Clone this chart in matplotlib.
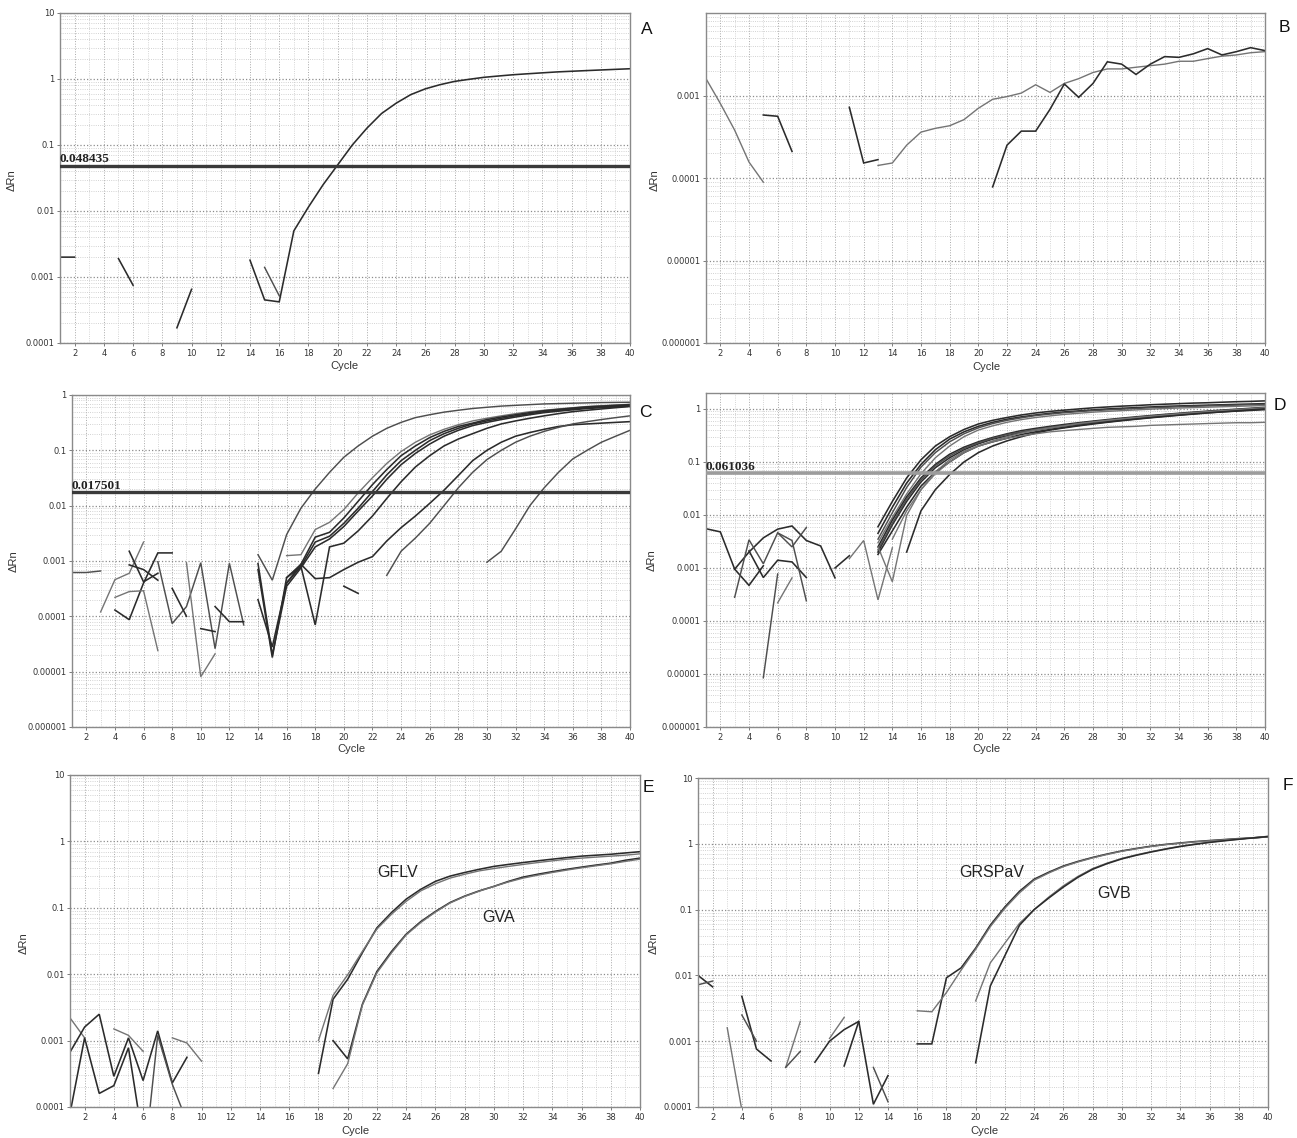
import numpy as np
import matplotlib
matplotlib.use('Agg')
import matplotlib.pyplot as plt
from matplotlib.ticker import LogLocator, NullFormatter, FixedLocator

nan = np.nan
W, H = 1297, 1138

# ---------------- data (start cycle, values) ----------------
# Panel A
A_main = (14, [0.0018, 0.00045, 0.00042, 0.005, 0.0115, 0.025, 0.05, 0.1, 0.18, 0.3, 0.43, 0.58, 0.71,
               0.82, 0.92, 0.99, 1.06, 1.11, 1.16, 1.2, 1.24, 1.28, 1.31, 1.34, 1.37, 1.40, 1.43])
A_side = (15, [0.0014, 0.00052])
A_noise = (1, [0.002, 0.002, nan, nan, 0.0019, 0.00075, nan, nan, 0.00017, 0.00065])
A_threshold = 0.048435

# Panel B
B_light = (1, [0.0016, 0.0008, 0.00038, 0.000156, 0.000089, nan, nan, nan, nan, nan, nan, nan,
               0.000142, 0.000152, 0.00025, 0.00036, 0.0004, 0.00043, 0.00051, 0.0007, 0.0009, 0.00097,
               0.00107, 0.00135, 0.00109, 0.0014, 0.0016, 0.0019, 0.0021, 0.0021, 0.0022, 0.0023, 0.0024,
               0.0026, 0.0026, 0.0028, 0.003, 0.0031, 0.0033, 0.0034])
B_dark = (5, [0.00058, 0.00056, 0.00021, nan, nan, nan, 0.00072, 0.000152, 0.000167,
              nan, nan, nan, nan, nan, nan, nan,
              0.000078, 0.00025, 0.00037, 0.00037, 0.00068, 0.00138, 0.00095, 0.0014, 0.00256, 0.0024,
              0.0018, 0.0024, 0.00296, 0.0029, 0.0032, 0.0037, 0.0031, 0.0034, 0.0038, 0.0035])

# Panel C
C_noise = [
    (1, [0.00062, 0.00062, 0.00066], 'm'),
    (3, [0.00012, 0.00046, 0.0006, 0.0022], 'l'),
    (4, [0.00013, 0.000087, 0.0004, 0.0014, 0.0014], 'd'),
    (5, [0.0015, 0.00042, 0.0006], 'd'),
    (5, [0.00085, 0.0007, 0.00045], 'd'),
    (4, [0.00022, 0.00028, 0.00029, 0.000024], 'l'),
    (7, [0.00097, 0.000074, 0.00015, 0.00093, 0.000026, 0.00091, 0.00007], 'm'),
    (9, [0.00093, 0.0000081, 0.000021], 'l'),
    (8, [0.00032, 0.0001], 'd'),
    (10, [0.00006, 0.000053], 'd'),
    (11, [0.00015, 0.00008, 0.00008], 'd'),
    (20, [0.00035, 0.00026], 'd'),
]
C_curves = [
    (14, [0.0013, 0.00045, 0.003, 0.009, 0.02, 0.04, 0.075, 0.12, 0.18, 0.25, 0.32, 0.39, 0.44, 0.49,
          0.53, 0.57, 0.6, 0.63, 0.65, 0.67, 0.69, 0.7, 0.71, 0.72, 0.73, 0.735, 0.74], 'm'),
    (16, [0.00125, 0.0013, 0.0037, 0.005, 0.0085, 0.017, 0.032, 0.058, 0.095, 0.14, 0.19, 0.24, 0.29,
          0.34, 0.38, 0.42, 0.46, 0.5, 0.53, 0.56, 0.59, 0.62, 0.64, 0.66, 0.68], 'l'),
    (14, [0.0007, 0.000018, 0.0005, 0.00087, 0.0027, 0.0033, 0.006, 0.012, 0.024, 0.045, 0.08, 0.12,
          0.17, 0.22, 0.27, 0.31, 0.36, 0.4, 0.44, 0.48, 0.52, 0.55, 0.58, 0.61, 0.63, 0.65, 0.67], 'd'),
    (14, [0.0002, 0.000028, 0.0004, 0.0008, 0.0022, 0.0028, 0.0048, 0.009, 0.018, 0.036, 0.065, 0.1,
          0.15, 0.2, 0.25, 0.3, 0.34, 0.38, 0.42, 0.46, 0.5, 0.53, 0.56, 0.59, 0.61, 0.63, 0.65], 'd'),
    (14, [0.0009, 0.00002, 0.00035, 0.00075, 0.0018, 0.0025, 0.0042, 0.008, 0.015, 0.03, 0.055, 0.088,
          0.13, 0.18, 0.23, 0.28, 0.32, 0.36, 0.4, 0.44, 0.48, 0.51, 0.54, 0.57, 0.59, 0.61, 0.63], 'd'),
    (16, [0.0005, 0.0008, 0.00007, 0.0018, 0.0021, 0.0035, 0.0065, 0.0135, 0.027, 0.05, 0.08, 0.12,
          0.16, 0.2, 0.25, 0.3, 0.34, 0.38, 0.42, 0.46, 0.5, 0.53, 0.56, 0.59, 0.62], 'd'),
    (16, [0.0004, 0.00087, 0.00048, 0.0005, 0.0007, 0.00095, 0.0012, 0.0023, 0.004, 0.0065, 0.011,
          0.019, 0.035, 0.065, 0.1, 0.14, 0.18, 0.21, 0.24, 0.27, 0.29, 0.3, 0.31, 0.32, 0.33], 'd'),
    (23, [0.00055, 0.0015, 0.0026, 0.0048, 0.01, 0.021, 0.04, 0.068, 0.1, 0.14, 0.18, 0.22, 0.26, 0.3,
          0.33, 0.36, 0.39, 0.42], 'm'),
    (30, [0.00095, 0.0015, 0.0038, 0.01, 0.021, 0.04, 0.07, 0.1, 0.14, 0.18, 0.23], 'm'),
]
C_threshold = 0.017501

# Panel D
D_noise = [
    (1, [0.0055, 0.0048, 0.00095, 0.00047, 0.0011], 'd'),
    (3, [0.00095, 0.002, 0.0037, 0.0054, 0.0062, 0.0033, 0.0026, 0.00065], 'd'),
    (3, [0.00028, 0.0034, 0.0012, 0.0046, 0.0025, 0.0058], 'm'),
    (4, [0.0021, 0.00066, 0.0014, 0.0013, 0.00066], 'd'),
    (5, [0.0000085, 0.00077], 'm'),
    (6, [0.00022, 0.00065], 'l'),
    (6, [0.0046, 0.0033, 0.00024], 'm'),
    (10, [0.001, 0.0017], 'd'),
    (11, [0.0015, 0.0033, 0.00025, 0.0024], 'l'),
]
D_curves = [
    (13, [0.006, 0.018, 0.05, 0.11, 0.2, 0.3, 0.41, 0.52, 0.61, 0.69, 0.77, 0.84, 0.9, 0.95, 1.0, 1.05,
          1.09, 1.13, 1.16, 1.2, 1.23, 1.26, 1.29, 1.31, 1.34, 1.37, 1.39, 1.42], 'd'),
    (13, [0.0045, 0.014, 0.04, 0.09, 0.17, 0.27, 0.37, 0.47, 0.56, 0.64, 0.71, 0.77, 0.83, 0.88, 0.92,
          0.96, 1.0, 1.03, 1.06, 1.09, 1.12, 1.14, 1.16, 1.18, 1.2, 1.22, 1.24, 1.26], 'd'),
    (13, [0.0035, 0.011, 0.033, 0.08, 0.15, 0.24, 0.34, 0.44, 0.53, 0.61, 0.68, 0.75, 0.8, 0.85, 0.89,
          0.93, 0.96, 0.99, 1.02, 1.05, 1.07, 1.1, 1.12, 1.14, 1.16, 1.18, 1.2, 1.22], 'm'),
    (13, [0.003, 0.009, 0.025, 0.06, 0.12, 0.2, 0.3, 0.4, 0.48, 0.56, 0.63, 0.69, 0.74, 0.79, 0.83,
          0.87, 0.9, 0.93, 0.96, 0.99, 1.02, 1.04, 1.06, 1.08, 1.1, 1.12, 1.14, 1.16], 'l'),
    (13, [0.0025, 0.008, 0.022, 0.05, 0.09, 0.14, 0.19, 0.24, 0.29, 0.34, 0.39, 0.43, 0.47, 0.51, 0.55,
          0.59, 0.63, 0.67, 0.71, 0.75, 0.79, 0.83, 0.87, 0.91, 0.95, 0.99, 1.03, 1.07], 'd'),
    (13, [0.002, 0.0065, 0.018, 0.042, 0.078, 0.12, 0.17, 0.22, 0.27, 0.31, 0.36, 0.4, 0.44, 0.48, 0.52,
          0.56, 0.6, 0.64, 0.68, 0.72, 0.76, 0.8, 0.84, 0.88, 0.92, 0.96, 0.99, 1.02], 'd'),
    (13, [0.0018, 0.005, 0.014, 0.035, 0.065, 0.1, 0.15, 0.2, 0.24, 0.28, 0.33, 0.37, 0.41, 0.45, 0.49,
          0.53, 0.57, 0.61, 0.65, 0.69, 0.73, 0.77, 0.81, 0.85, 0.88, 0.91, 0.94, 0.97], 'd'),
    (13, [0.0022, 0.007, 0.02, 0.046, 0.085, 0.13, 0.18, 0.23, 0.28, 0.33, 0.37, 0.41, 0.45, 0.49, 0.53,
          0.57, 0.61, 0.65, 0.69, 0.73, 0.77, 0.81, 0.85, 0.89, 0.93, 0.97, 1.01, 1.05], 'm'),
    (14, [0.0035, 0.012, 0.03, 0.06, 0.1, 0.15, 0.2, 0.25, 0.3, 0.35, 0.4, 0.44, 0.48, 0.53, 0.57, 0.61,
          0.65, 0.69, 0.73, 0.77, 0.81, 0.85, 0.89, 0.93, 0.97, 1.01, 1.05], 'l'),
    (15, [0.002, 0.012, 0.03, 0.058, 0.1, 0.15, 0.2, 0.25, 0.3, 0.35, 0.4, 0.44, 0.48, 0.52, 0.56, 0.6,
          0.64, 0.68, 0.72, 0.76, 0.8, 0.84, 0.88, 0.92, 0.96, 1.0], 'd'),
    (13, [0.0025, 0.00055, 0.0098, 0.03, 0.065, 0.11, 0.16, 0.2, 0.24, 0.28, 0.31, 0.34, 0.37, 0.39,
          0.41, 0.43, 0.45, 0.46, 0.47, 0.49, 0.5, 0.51, 0.52, 0.53, 0.54, 0.55, 0.55, 0.56], 'l'),
]
D_threshold = 0.061036

# Panel E
E_noise = [
    (1, [0.0022, 0.0011], 'l'),
    (1, [0.00067, 0.0016, 0.0025, 0.00029, 0.0011, 0.00025, 0.0014, 0.00023, 0.00056], 'd'),
    (1, [0.00008, 0.0011, 0.00016, 0.00021, 0.00078, 0.00003], 'd'),
    (6, [0.00001, 0.0012, 0.00022, 0.00006], 'm'),
    (4, [0.0015, 0.0012, 0.00069], 'l'),
    (8, [0.0011, 0.00092, 0.00049], 'l'),
]
E_curves = [
    (18, [0.00032, 0.0042, 0.0084, 0.021, 0.05, 0.085, 0.135, 0.19, 0.25, 0.3, 0.34, 0.38, 0.42, 0.45,
          0.48, 0.51, 0.54, 0.57, 0.6, 0.62, 0.64, 0.67, 0.7], 'd'),
    (18, [0.001, 0.0048, 0.0098, 0.022, 0.048, 0.08, 0.125, 0.18, 0.23, 0.28, 0.32, 0.36, 0.39, 0.42,
          0.45, 0.48, 0.51, 0.54, 0.56, 0.58, 0.6, 0.62, 0.65], 'l'),
    (19, [0.001, 0.00053, 0.0035, 0.011, 0.022, 0.04, 0.062, 0.088, 0.12, 0.15, 0.18, 0.21, 0.25, 0.29,
          0.32, 0.35, 0.38, 0.41, 0.44, 0.47, 0.52, 0.56], 'd'),
    (19, [0.00019, 0.00045, 0.0034, 0.0105, 0.021, 0.039, 0.06, 0.086, 0.118, 0.148, 0.178, 0.21, 0.245,
          0.28, 0.31, 0.34, 0.37, 0.4, 0.43, 0.46, 0.5, 0.54], 'l'),
]
E_labels = ['GFLV', 'GVA']

# Panel F
F_noise = [
    (1, [0.01, 0.0067], 'd'),
    (1, [0.0072, 0.0082], 'm'),
    (3, [0.0016, 0.00009], 'l'),
    (4, [0.0048, 0.00076, 0.0005], 'd'),
    (4, [0.0025, 0.001], 'm'),
    (7, [0.0004, 0.002], 'l'),
    (7, [0.0004, 0.0007], 'm'),
    (9, [0.00048, 0.001, 0.0015, 0.002, 0.00011, 0.0003], 'd'),
    (10, [0.0011, 0.0023], 'l'),
    (11, [0.00042, 0.002], 'd'),
    (13, [0.0004, 0.00012], 'm'),
]
F_curves = [
    (16, [0.00091, 0.00091, 0.0092, 0.013, 0.026, 0.058, 0.11, 0.19, 0.29, 0.37, 0.46, 0.54, 0.62, 0.7,
          0.78, 0.85, 0.92, 0.98, 1.03, 1.08, 1.12, 1.16, 1.2, 1.23, 1.28], 'd'),
    (16, [0.0029, 0.0028, 0.0055, 0.012, 0.025, 0.055, 0.105, 0.18, 0.28, 0.36, 0.45, 0.53, 0.61, 0.69,
          0.77, 0.84, 0.91, 0.97, 1.02, 1.07, 1.11, 1.15, 1.19, 1.23, 1.27], 'l'),
    (20, [0.0041, 0.0155, 0.031, 0.062, 0.1, 0.155, 0.23, 0.32, 0.42, 0.51, 0.6, 0.68, 0.76, 0.84, 0.92,
          0.99, 1.06, 1.12, 1.18, 1.24, 1.3], 'l'),
    (20, [0.00047, 0.0069, 0.02, 0.058, 0.1, 0.15, 0.22, 0.31, 0.41, 0.5, 0.59, 0.67, 0.75, 0.83, 0.91,
          0.98, 1.05, 1.11, 1.17, 1.23, 1.29], 'd'),
]
F_labels = ['GRSPaV', 'GVB']

x_ticks = list(range(2, 41, 2))
y_ticks_A = [1e-4, 1e-3, 1e-2, 1e-1, 1, 10]
y_labels_A = ['0.0001', '0.001', '0.01', '0.1', '1', '10']
y_ticks_B = [1e-6, 1e-5, 1e-4, 1e-3]
y_labels_B = ['0.000001', '0.00001', '0.0001', '0.001']
y_ticks_C = [1e-6, 1e-5, 1e-4, 1e-3, 1e-2, 1e-1, 1]
y_labels_C = ['0.000001', '0.00001', '0.0001', '0.001', '0.01', '0.1', '1']

# ---------------- drawing ----------------
COL = {'d': '#2b2b2b', 'm': '#4e4e4e', 'l': '#747474'}
LW = {'d': 1.15, 'm': 1.05, 'l': 1.0}

fig = plt.figure(figsize=(W / 100, H / 100), dpi=100)
fig.patch.set_facecolor('white')


def px_axes(l, r, t, b):
    return fig.add_axes([l / W, 1 - b / H, (r - l) / W, (b - t) / H])


def setup(ax, ylim, yticks, ylabels):
    ax.set_yscale('log')
    ax.set_xlim(1, 40)
    ax.set_ylim(*ylim)
    ax.set_xticks(x_ticks)
    ax.set_xticklabels([str(v) for v in x_ticks])
    ax.xaxis.set_minor_locator(FixedLocator(list(range(1, 41))))
    ax.set_yticks(yticks)
    ax.set_yticklabels(ylabels)
    ax.yaxis.set_minor_locator(LogLocator(base=10, subs=np.arange(2, 10)))
    ax.yaxis.set_minor_formatter(NullFormatter())
    ax.tick_params(which='major', length=2, width=0.6, color='#666', labelsize=6,
                   labelcolor='#333', pad=2)
    ax.tick_params(which='minor', length=0)
    ax.grid(which='major', axis='x', ls=':', color='#a8a8a8', lw=0.7)
    ax.grid(which='minor', axis='x', ls=':', color='#c8c8c8', lw=0.6)
    ax.grid(which='major', axis='y', ls=':', color='#8c8c8c', lw=0.9)
    ax.grid(which='minor', axis='y', ls=':', color='#c4c4c4', lw=0.6)
    ax.set_axisbelow(True)
    for s in ax.spines.values():
        s.set_color('#8a8a8a')
        s.set_linewidth(1.0)


def draw(ax, series, col='d'):
    start, vals = series[0], series[1]
    c = series[2] if len(series) > 2 else col
    x = np.arange(start, start + len(vals))
    ax.plot(x, np.array(vals, dtype=float), color=COL[c], lw=LW[c], solid_joinstyle='miter')


def threshold(ax, val, label, color, lw):
    ax.axhline(val, color=color, lw=lw, zorder=5)
    ax.text(1.0, val * 1.01, label, fontsize=9.5, family='Liberation Serif', fontweight='bold',
            color='#222', ha='left', va='bottom', zorder=6)


def ftext(x, y, s, **kw):
    fig.text(x / W, 1 - y / H, s, **kw)


lab_kw = dict(fontsize=8, color='#333', ha='center', va='center', family='Liberation Sans')
let_kw = dict(fontsize=12.5, color='#111', ha='center', va='center', family='Liberation Sans')

# A
axA = px_axes(60, 630, 13, 343)
setup(axA, (1e-4, 10), y_ticks_A, y_labels_A)
draw(axA, A_noise, 'd')
draw(axA, A_side, 'm')
draw(axA, A_main, 'd')
threshold(axA, A_threshold, '0.048435', '#3a3a3a', 2.4)

# B
axB = px_axes(706, 1265, 13, 343)
setup(axB, (1e-6, 1e-2), y_ticks_B, y_labels_B)
draw(axB, B_light, 'l')
draw(axB, B_dark, 'd')

# C
axC = px_axes(72, 630, 395, 727)
setup(axC, (1e-6, 1), y_ticks_C, y_labels_C)
for s in C_noise:
    draw(axC, s)
for s in C_curves:
    draw(axC, s)
threshold(axC, C_threshold, '0.017501', '#3a3a3a', 2.4)

# D
axD = px_axes(706, 1265, 393, 727)
setup(axD, (1e-6, 2), y_ticks_C, y_labels_C)
for s in D_noise:
    draw(axD, s)
for s in D_curves:
    draw(axD, s)
threshold(axD, D_threshold, '0.061036', '#9c9c9c', 2.6)

# E
axE = px_axes(70, 640, 775, 1107)
setup(axE, (1e-4, 10), y_ticks_A, y_labels_A)
for s in E_noise:
    draw(axE, s)
for s in E_curves:
    draw(axE, s)
axE.text(23.4, 0.335, E_labels[0], fontsize=11.5, family='Liberation Sans', color='#222',
         ha='center', va='center')
axE.text(30.3, 0.072, E_labels[1], fontsize=11.5, family='Liberation Sans', color='#222',
         ha='center', va='center')

# F
axF = px_axes(698, 1268, 778, 1107)
setup(axF, (1e-4, 10), y_ticks_A, y_labels_A)
for s in F_noise:
    draw(axF, s)
for s in F_curves:
    draw(axF, s)
axF.text(21.1, 0.37, F_labels[0], fontsize=11.5, family='Liberation Sans', color='#222',
         ha='center', va='center')
axF.text(29.5, 0.176, F_labels[1], fontsize=11.5, family='Liberation Sans', color='#222',
         ha='center', va='center')

# axis titles
for (x, y) in [(344, 366), (986, 367), (351, 749), (986, 749), (355, 1131), (984, 1131)]:
    ftext(x, y, 'Cycle', **lab_kw)
for (x, y) in [(12, 180), (655, 180), (14, 561), (652, 560), (24, 943), (654, 943)]:
    ftext(x, y, 'ΔRn', rotation=90, **lab_kw)

# panel letters
for (x, y, s) in [(647, 29, 'A'), (1284, 28, 'B'), (645, 412, 'C'), (1280, 406, 'D'),
                  (648, 787, 'E'), (1288, 786, 'F')]:
    ftext(x, y, s, **let_kw)

fig.savefig('out.png', dpi=100, facecolor='white')
